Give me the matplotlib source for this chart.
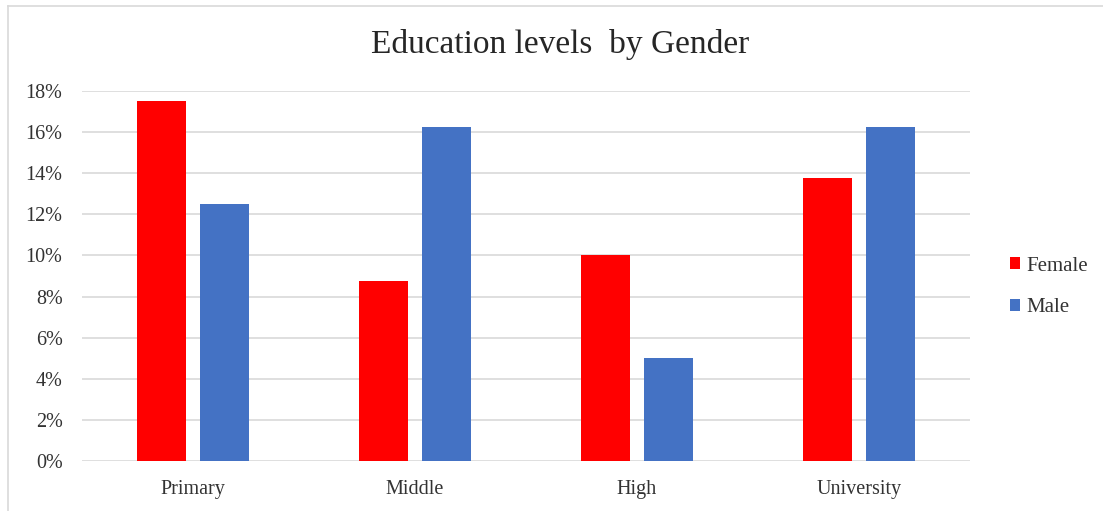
import matplotlib.pyplot as plt
from matplotlib.lines import Line2D
from matplotlib.ticker import FuncFormatter

plt.rcParams['font.family'] = ['Liberation Serif', 'DejaVu Serif']

categories = ['Primary', 'Middle', 'High', 'University']
female = [17.5, 8.75, 10.0, 13.75]
male = [12.5, 16.25, 5.0, 16.25]
yticks = [0, 2, 4, 6, 8, 10, 12, 14, 16, 18]

fig = plt.figure(figsize=(11.03, 5.11), dpi=100)
ax = fig.add_axes([82 / 1103, 1 - 461 / 511, 888 / 1103, 370 / 511])

x = list(range(len(categories)))
w = 0.22
off = 0.142
ax.bar([i - off for i in x], female, width=w, color='#FF0000', label='Female', zorder=3)
ax.bar([i + off for i in x], male, width=w, color='#4472C4', label='Male', zorder=3)

ax.set_xlim(-0.5, len(categories) - 0.5)
ax.set_ylim(0, 18)
ax.set_yticks(yticks)
ax.yaxis.set_major_formatter(FuncFormatter(lambda v, p: f'{v:.0f}%'))
ax.set_xticks(x)
ax.set_xticklabels(categories)
ax.tick_params(axis='both', length=0, labelsize=14.5, colors='#333333')
ax.tick_params(axis='y', pad=14)
ax.tick_params(axis='x', pad=14)
ax.grid(axis='y', color='#D9D9D9', linewidth=1.2, zorder=0)
for s in ax.spines.values():
    s.set_visible(False)

fig.text(560 / 1103, 1 - 45 / 511, 'Education levels  by Gender', ha='center', va='center',
         fontsize=24, color='#262626')

fig.legend(loc='center left', bbox_to_anchor=(991 / 1103, 1 - 287 / 511), frameon=False,
           fontsize=15, handlelength=0.5, handleheight=0.5, handletextpad=0.3, labelspacing=1.1,
           labelcolor='#333333')

# chart border
fig.add_artist(Line2D([7.5 / 1103, 7.5 / 1103], [0, 1 - 6.5 / 511], color='#D9D9D9', lw=1.2))
fig.add_artist(Line2D([7.5 / 1103, 1], [1 - 6.5 / 511, 1 - 6.5 / 511], color='#D9D9D9', lw=1.2))

fig.savefig('out.png', dpi=100)
